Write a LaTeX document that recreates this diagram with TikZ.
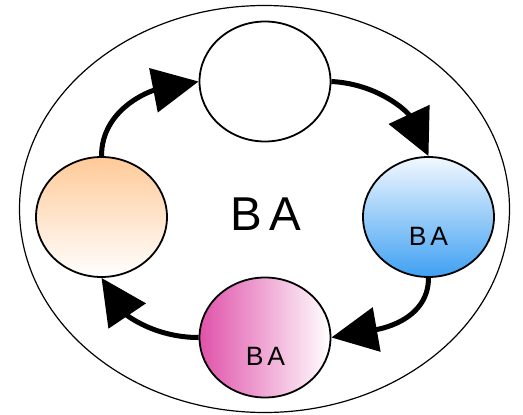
\documentclass[tikz,border=0pt]{standalone}
\usepackage{fontspec}
\setmainfont{Liberation Sans}
\usetikzlibrary{shapes.geometric,arrows.meta}
\definecolor{peach}{RGB}{255,202,152}
\definecolor{skyblue}{RGB}{62,160,242}
\definecolor{paleblue}{RGB}{242,248,255}
\definecolor{magenta}{RGB}{224,82,170}
\newcommand{\batext}{B\hspace{0.15em}A}
\begin{document}
\begin{tikzpicture}[x=1pt,y=1pt,
  state/.style={ellipse,draw,line width=1.8pt,inner sep=0pt,minimum width=131pt,minimum height=120pt},
  flow/.style={line width=5pt,-{Triangle[length=46pt,width=44pt]}}]
 \useasboundingbox (0,0) rectangle (523,-415);
 \node[ellipse,draw,line width=1.2pt,minimum width=490pt,minimum height=407pt] (outer) at (264.5,-209) {};
 \node[font=\fontsize{47.5}{50}\selectfont] (title) at (265.5,-214) {\batext};
 \node[state] (top) at (265,-81.5) {};
 \node[state,top color=peach,bottom color=white] (left) at (101.5,-217) {};
 \node[state,top color=paleblue,bottom color=skyblue] (right) at (428.5,-217) {};
 \node[state,left color=magenta,right color=white] (bottom) at (265,-337.5) {};
 \node[font=\fontsize{26.5}{28}\selectfont] (rightlabel) at (428.5,-236.5) {\batext};
 \node[font=\fontsize{26.5}{28}\selectfont] (bottomlabel) at (265.5,-356.5) {\batext};
 \draw[flow] (left.north) to[out=90,in=191] (top.west);
 \draw[flow] (top.east) to[out=-3,in=115] (right.north);
 \draw[flow] (right.south) to[out=-90,in=10] (bottom.east);
 \draw[flow] (bottom.west) to[out=180,in=-56] (left.south);
\end{tikzpicture}
\end{document}
